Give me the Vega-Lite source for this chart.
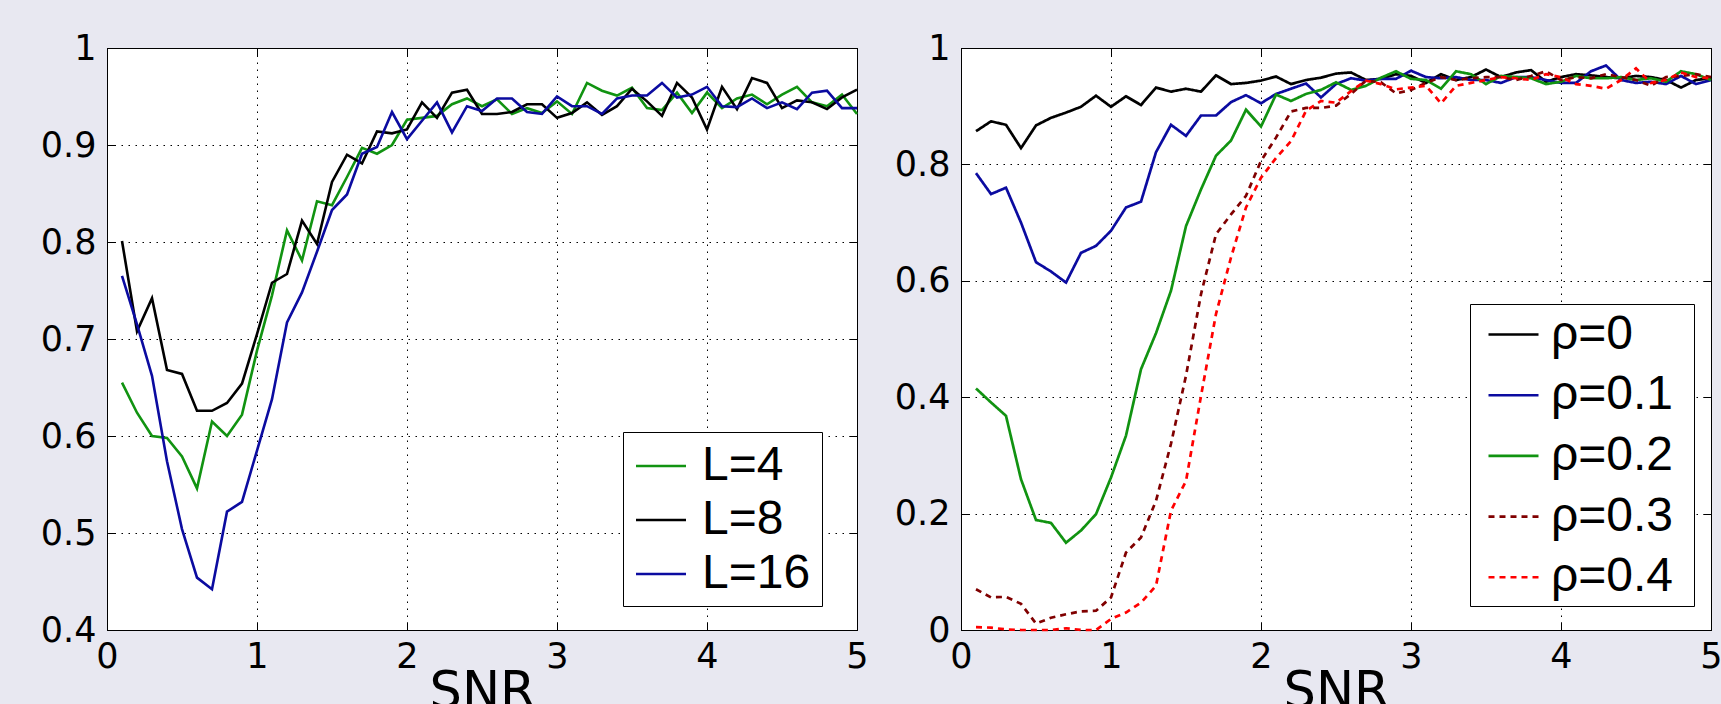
{
  "$schema": "https://vega.github.io/schema/vega-lite/v6.json",
  "background": "#e8e8f1",
  "padding": {"left": 0, "top": 30, "right": 0, "bottom": 0},
  "spacing": 104,
  "bounds": "flush",
  "resolve": {"scale": {"color": "independent", "strokeDash": "independent"}, "legend": {"color": "independent", "strokeDash": "independent"}},
  "config": {
    "view": {"stroke": "black", "strokeWidth": 1, "fill": "white"},
    "axis": {
      "labelFont": "DejaVu Sans", "labelFontSize": 35, "labelColor": "black",
      "titleFont": "DejaVu Sans", "titleFontSize": 51, "titleFontWeight": "normal", "titleColor": "black",
      "domain": false, "tickColor": "black", "tickSize": -8, "tickWidth": 1,
      "grid": true, "gridColor": "black", "gridDash": [1.5, 5.5], "gridOpacity": 1, "gridWidth": 1,
      "labelFlush": false
    },
    "legend": {
      "orient": "none", "symbolType": "stroke", "symbolSize": 2500, "symbolStrokeWidth": 2.6,
      "labelFont": "Liberation Sans", "labelFontSize": 48, "labelColor": "black",
      "titleOrient": "right", "titleFontSize": 10, "titleColor": "white",
      "strokeColor": "black", "fillColor": "white", "padding": 8, "cornerRadius": 0
    }
  },
  "datasets": {
    "left": [
      {"snr":0.1,"acc":0.655,"s":"L=4"},{"snr":0.2,"acc":0.624,"s":"L=4"},{"snr":0.3,"acc":0.600,"s":"L=4"},{"snr":0.4,"acc":0.598,"s":"L=4"},{"snr":0.5,"acc":0.579,"s":"L=4"},{"snr":0.6,"acc":0.546,"s":"L=4"},{"snr":0.7,"acc":0.615,"s":"L=4"},{"snr":0.8,"acc":0.600,"s":"L=4"},{"snr":0.9,"acc":0.622,"s":"L=4"},{"snr":1.0,"acc":0.688,"s":"L=4"},
      {"snr":1.1,"acc":0.745,"s":"L=4"},{"snr":1.2,"acc":0.812,"s":"L=4"},{"snr":1.3,"acc":0.781,"s":"L=4"},{"snr":1.4,"acc":0.842,"s":"L=4"},{"snr":1.5,"acc":0.838,"s":"L=4"},{"snr":1.6,"acc":0.867,"s":"L=4"},{"snr":1.7,"acc":0.897,"s":"L=4"},{"snr":1.8,"acc":0.891,"s":"L=4"},{"snr":1.9,"acc":0.900,"s":"L=4"},{"snr":2.0,"acc":0.926,"s":"L=4"},
      {"snr":2.1,"acc":0.928,"s":"L=4"},{"snr":2.2,"acc":0.930,"s":"L=4"},{"snr":2.3,"acc":0.942,"s":"L=4"},{"snr":2.4,"acc":0.948,"s":"L=4"},{"snr":2.5,"acc":0.940,"s":"L=4"},{"snr":2.6,"acc":0.947,"s":"L=4"},{"snr":2.7,"acc":0.932,"s":"L=4"},{"snr":2.8,"acc":0.938,"s":"L=4"},{"snr":2.9,"acc":0.933,"s":"L=4"},{"snr":3.0,"acc":0.945,"s":"L=4"},
      {"snr":3.1,"acc":0.932,"s":"L=4"},{"snr":3.2,"acc":0.964,"s":"L=4"},{"snr":3.3,"acc":0.956,"s":"L=4"},{"snr":3.4,"acc":0.951,"s":"L=4"},{"snr":3.5,"acc":0.959,"s":"L=4"},{"snr":3.6,"acc":0.938,"s":"L=4"},{"snr":3.7,"acc":0.936,"s":"L=4"},{"snr":3.8,"acc":0.954,"s":"L=4"},{"snr":3.9,"acc":0.933,"s":"L=4"},{"snr":4.0,"acc":0.954,"s":"L=4"},
      {"snr":4.1,"acc":0.938,"s":"L=4"},{"snr":4.2,"acc":0.948,"s":"L=4"},{"snr":4.3,"acc":0.952,"s":"L=4"},{"snr":4.4,"acc":0.942,"s":"L=4"},{"snr":4.5,"acc":0.952,"s":"L=4"},{"snr":4.6,"acc":0.960,"s":"L=4"},{"snr":4.7,"acc":0.944,"s":"L=4"},{"snr":4.8,"acc":0.940,"s":"L=4"},{"snr":4.9,"acc":0.952,"s":"L=4"},{"snr":5.0,"acc":0.932,"s":"L=4"},
      {"snr":0.1,"acc":0.801,"s":"L=8"},{"snr":0.2,"acc":0.708,"s":"L=8"},{"snr":0.3,"acc":0.742,"s":"L=8"},{"snr":0.4,"acc":0.668,"s":"L=8"},{"snr":0.5,"acc":0.664,"s":"L=8"},{"snr":0.6,"acc":0.626,"s":"L=8"},{"snr":0.7,"acc":0.626,"s":"L=8"},{"snr":0.8,"acc":0.634,"s":"L=8"},{"snr":0.9,"acc":0.654,"s":"L=8"},{"snr":1.0,"acc":0.705,"s":"L=8"},
      {"snr":1.1,"acc":0.758,"s":"L=8"},{"snr":1.2,"acc":0.767,"s":"L=8"},{"snr":1.3,"acc":0.822,"s":"L=8"},{"snr":1.4,"acc":0.798,"s":"L=8"},{"snr":1.5,"acc":0.862,"s":"L=8"},{"snr":1.6,"acc":0.890,"s":"L=8"},{"snr":1.7,"acc":0.881,"s":"L=8"},{"snr":1.8,"acc":0.914,"s":"L=8"},{"snr":1.9,"acc":0.912,"s":"L=8"},{"snr":2.0,"acc":0.916,"s":"L=8"},
      {"snr":2.1,"acc":0.944,"s":"L=8"},{"snr":2.2,"acc":0.928,"s":"L=8"},{"snr":2.3,"acc":0.954,"s":"L=8"},{"snr":2.4,"acc":0.957,"s":"L=8"},{"snr":2.5,"acc":0.932,"s":"L=8"},{"snr":2.6,"acc":0.932,"s":"L=8"},{"snr":2.7,"acc":0.934,"s":"L=8"},{"snr":2.8,"acc":0.942,"s":"L=8"},{"snr":2.9,"acc":0.942,"s":"L=8"},{"snr":3.0,"acc":0.928,"s":"L=8"},
      {"snr":3.1,"acc":0.933,"s":"L=8"},{"snr":3.2,"acc":0.944,"s":"L=8"},{"snr":3.3,"acc":0.931,"s":"L=8"},{"snr":3.4,"acc":0.940,"s":"L=8"},{"snr":3.5,"acc":0.958,"s":"L=8"},{"snr":3.6,"acc":0.945,"s":"L=8"},{"snr":3.7,"acc":0.930,"s":"L=8"},{"snr":3.8,"acc":0.964,"s":"L=8"},{"snr":3.9,"acc":0.949,"s":"L=8"},{"snr":4.0,"acc":0.916,"s":"L=8"},
      {"snr":4.1,"acc":0.960,"s":"L=8"},{"snr":4.2,"acc":0.937,"s":"L=8"},{"snr":4.3,"acc":0.969,"s":"L=8"},{"snr":4.4,"acc":0.964,"s":"L=8"},{"snr":4.5,"acc":0.938,"s":"L=8"},{"snr":4.6,"acc":0.946,"s":"L=8"},{"snr":4.7,"acc":0.944,"s":"L=8"},{"snr":4.8,"acc":0.937,"s":"L=8"},{"snr":4.9,"acc":0.949,"s":"L=8"},{"snr":5.0,"acc":0.957,"s":"L=8"},
      {"snr":0.1,"acc":0.765,"s":"L=16"},{"snr":0.2,"acc":0.715,"s":"L=16"},{"snr":0.3,"acc":0.662,"s":"L=16"},{"snr":0.4,"acc":0.574,"s":"L=16"},{"snr":0.5,"acc":0.504,"s":"L=16"},{"snr":0.6,"acc":0.454,"s":"L=16"},{"snr":0.7,"acc":0.442,"s":"L=16"},{"snr":0.8,"acc":0.522,"s":"L=16"},{"snr":0.9,"acc":0.532,"s":"L=16"},{"snr":1.0,"acc":0.585,"s":"L=16"},
      {"snr":1.1,"acc":0.638,"s":"L=16"},{"snr":1.2,"acc":0.717,"s":"L=16"},{"snr":1.3,"acc":0.748,"s":"L=16"},{"snr":1.4,"acc":0.790,"s":"L=16"},{"snr":1.5,"acc":0.833,"s":"L=16"},{"snr":1.6,"acc":0.849,"s":"L=16"},{"snr":1.7,"acc":0.891,"s":"L=16"},{"snr":1.8,"acc":0.898,"s":"L=16"},{"snr":1.9,"acc":0.934,"s":"L=16"},{"snr":2.0,"acc":0.906,"s":"L=16"},
      {"snr":2.1,"acc":0.925,"s":"L=16"},{"snr":2.2,"acc":0.944,"s":"L=16"},{"snr":2.3,"acc":0.913,"s":"L=16"},{"snr":2.4,"acc":0.940,"s":"L=16"},{"snr":2.5,"acc":0.935,"s":"L=16"},{"snr":2.6,"acc":0.948,"s":"L=16"},{"snr":2.7,"acc":0.948,"s":"L=16"},{"snr":2.8,"acc":0.934,"s":"L=16"},{"snr":2.9,"acc":0.932,"s":"L=16"},{"snr":3.0,"acc":0.950,"s":"L=16"},
      {"snr":3.1,"acc":0.940,"s":"L=16"},{"snr":3.2,"acc":0.940,"s":"L=16"},{"snr":3.3,"acc":0.932,"s":"L=16"},{"snr":3.4,"acc":0.948,"s":"L=16"},{"snr":3.5,"acc":0.951,"s":"L=16"},{"snr":3.6,"acc":0.951,"s":"L=16"},{"snr":3.7,"acc":0.964,"s":"L=16"},{"snr":3.8,"acc":0.949,"s":"L=16"},{"snr":3.9,"acc":0.952,"s":"L=16"},{"snr":4.0,"acc":0.960,"s":"L=16"},
      {"snr":4.1,"acc":0.940,"s":"L=16"},{"snr":4.2,"acc":0.939,"s":"L=16"},{"snr":4.3,"acc":0.948,"s":"L=16"},{"snr":4.4,"acc":0.938,"s":"L=16"},{"snr":4.5,"acc":0.944,"s":"L=16"},{"snr":4.6,"acc":0.937,"s":"L=16"},{"snr":4.7,"acc":0.954,"s":"L=16"},{"snr":4.8,"acc":0.956,"s":"L=16"},{"snr":4.9,"acc":0.938,"s":"L=16"},{"snr":5.0,"acc":0.938,"s":"L=16"}
    ],
    "right": [
      {"snr":0.1,"acc":0.857,"s":"ρ=0"},{"snr":0.2,"acc":0.874,"s":"ρ=0"},{"snr":0.3,"acc":0.868,"s":"ρ=0"},{"snr":0.4,"acc":0.828,"s":"ρ=0"},{"snr":0.5,"acc":0.867,"s":"ρ=0"},{"snr":0.6,"acc":0.880,"s":"ρ=0"},{"snr":0.7,"acc":0.889,"s":"ρ=0"},{"snr":0.8,"acc":0.899,"s":"ρ=0"},{"snr":0.9,"acc":0.918,"s":"ρ=0"},{"snr":1.0,"acc":0.899,"s":"ρ=0"},
      {"snr":1.1,"acc":0.917,"s":"ρ=0"},{"snr":1.2,"acc":0.902,"s":"ρ=0"},{"snr":1.3,"acc":0.932,"s":"ρ=0"},{"snr":1.4,"acc":0.925,"s":"ρ=0"},{"snr":1.5,"acc":0.930,"s":"ρ=0"},{"snr":1.6,"acc":0.925,"s":"ρ=0"},{"snr":1.7,"acc":0.953,"s":"ρ=0"},{"snr":1.8,"acc":0.938,"s":"ρ=0"},{"snr":1.9,"acc":0.940,"s":"ρ=0"},{"snr":2.0,"acc":0.944,"s":"ρ=0"},
      {"snr":2.1,"acc":0.951,"s":"ρ=0"},{"snr":2.2,"acc":0.938,"s":"ρ=0"},{"snr":2.3,"acc":0.945,"s":"ρ=0"},{"snr":2.4,"acc":0.949,"s":"ρ=0"},{"snr":2.5,"acc":0.956,"s":"ρ=0"},{"snr":2.6,"acc":0.958,"s":"ρ=0"},{"snr":2.7,"acc":0.945,"s":"ρ=0"},{"snr":2.8,"acc":0.947,"s":"ρ=0"},{"snr":2.9,"acc":0.955,"s":"ρ=0"},{"snr":3.0,"acc":0.952,"s":"ρ=0"},
      {"snr":3.1,"acc":0.940,"s":"ρ=0"},{"snr":3.2,"acc":0.955,"s":"ρ=0"},{"snr":3.3,"acc":0.945,"s":"ρ=0"},{"snr":3.4,"acc":0.950,"s":"ρ=0"},{"snr":3.5,"acc":0.963,"s":"ρ=0"},{"snr":3.6,"acc":0.950,"s":"ρ=0"},{"snr":3.7,"acc":0.958,"s":"ρ=0"},{"snr":3.8,"acc":0.962,"s":"ρ=0"},{"snr":3.9,"acc":0.942,"s":"ρ=0"},{"snr":4.0,"acc":0.950,"s":"ρ=0"},
      {"snr":4.1,"acc":0.955,"s":"ρ=0"},{"snr":4.2,"acc":0.953,"s":"ρ=0"},{"snr":4.3,"acc":0.950,"s":"ρ=0"},{"snr":4.4,"acc":0.948,"s":"ρ=0"},{"snr":4.5,"acc":0.952,"s":"ρ=0"},{"snr":4.6,"acc":0.950,"s":"ρ=0"},{"snr":4.7,"acc":0.945,"s":"ρ=0"},{"snr":4.8,"acc":0.932,"s":"ρ=0"},{"snr":4.9,"acc":0.945,"s":"ρ=0"},{"snr":5.0,"acc":0.948,"s":"ρ=0"},
      {"snr":0.1,"acc":0.785,"s":"ρ=0.1"},{"snr":0.2,"acc":0.749,"s":"ρ=0.1"},{"snr":0.3,"acc":0.760,"s":"ρ=0.1"},{"snr":0.4,"acc":0.700,"s":"ρ=0.1"},{"snr":0.5,"acc":0.632,"s":"ρ=0.1"},{"snr":0.6,"acc":0.616,"s":"ρ=0.1"},{"snr":0.7,"acc":0.597,"s":"ρ=0.1"},{"snr":0.8,"acc":0.648,"s":"ρ=0.1"},{"snr":0.9,"acc":0.660,"s":"ρ=0.1"},{"snr":1.0,"acc":0.686,"s":"ρ=0.1"},
      {"snr":1.1,"acc":0.726,"s":"ρ=0.1"},{"snr":1.2,"acc":0.736,"s":"ρ=0.1"},{"snr":1.3,"acc":0.821,"s":"ρ=0.1"},{"snr":1.4,"acc":0.868,"s":"ρ=0.1"},{"snr":1.5,"acc":0.849,"s":"ρ=0.1"},{"snr":1.6,"acc":0.884,"s":"ρ=0.1"},{"snr":1.7,"acc":0.884,"s":"ρ=0.1"},{"snr":1.8,"acc":0.907,"s":"ρ=0.1"},{"snr":1.9,"acc":0.919,"s":"ρ=0.1"},{"snr":2.0,"acc":0.905,"s":"ρ=0.1"},
      {"snr":2.1,"acc":0.921,"s":"ρ=0.1"},{"snr":2.2,"acc":0.930,"s":"ρ=0.1"},{"snr":2.3,"acc":0.939,"s":"ρ=0.1"},{"snr":2.4,"acc":0.915,"s":"ρ=0.1"},{"snr":2.5,"acc":0.938,"s":"ρ=0.1"},{"snr":2.6,"acc":0.948,"s":"ρ=0.1"},{"snr":2.7,"acc":0.944,"s":"ρ=0.1"},{"snr":2.8,"acc":0.947,"s":"ρ=0.1"},{"snr":2.9,"acc":0.947,"s":"ρ=0.1"},{"snr":3.0,"acc":0.961,"s":"ρ=0.1"},
      {"snr":3.1,"acc":0.950,"s":"ρ=0.1"},{"snr":3.2,"acc":0.948,"s":"ρ=0.1"},{"snr":3.3,"acc":0.950,"s":"ρ=0.1"},{"snr":3.4,"acc":0.945,"s":"ρ=0.1"},{"snr":3.5,"acc":0.945,"s":"ρ=0.1"},{"snr":3.6,"acc":0.940,"s":"ρ=0.1"},{"snr":3.7,"acc":0.950,"s":"ρ=0.1"},{"snr":3.8,"acc":0.950,"s":"ρ=0.1"},{"snr":3.9,"acc":0.945,"s":"ρ=0.1"},{"snr":4.0,"acc":0.940,"s":"ρ=0.1"},
      {"snr":4.1,"acc":0.940,"s":"ρ=0.1"},{"snr":4.2,"acc":0.960,"s":"ρ=0.1"},{"snr":4.3,"acc":0.970,"s":"ρ=0.1"},{"snr":4.4,"acc":0.945,"s":"ρ=0.1"},{"snr":4.5,"acc":0.940,"s":"ρ=0.1"},{"snr":4.6,"acc":0.942,"s":"ρ=0.1"},{"snr":4.7,"acc":0.938,"s":"ρ=0.1"},{"snr":4.8,"acc":0.952,"s":"ρ=0.1"},{"snr":4.9,"acc":0.938,"s":"ρ=0.1"},{"snr":5.0,"acc":0.945,"s":"ρ=0.1"},
      {"snr":0.1,"acc":0.415,"s":"ρ=0.2"},{"snr":0.2,"acc":0.391,"s":"ρ=0.2"},{"snr":0.3,"acc":0.368,"s":"ρ=0.2"},{"snr":0.4,"acc":0.259,"s":"ρ=0.2"},{"snr":0.5,"acc":0.189,"s":"ρ=0.2"},{"snr":0.6,"acc":0.184,"s":"ρ=0.2"},{"snr":0.7,"acc":0.150,"s":"ρ=0.2"},{"snr":0.8,"acc":0.171,"s":"ρ=0.2"},{"snr":0.9,"acc":0.199,"s":"ρ=0.2"},{"snr":1.0,"acc":0.262,"s":"ρ=0.2"},
      {"snr":1.1,"acc":0.334,"s":"ρ=0.2"},{"snr":1.2,"acc":0.448,"s":"ρ=0.2"},{"snr":1.3,"acc":0.510,"s":"ρ=0.2"},{"snr":1.4,"acc":0.583,"s":"ρ=0.2"},{"snr":1.5,"acc":0.694,"s":"ρ=0.2"},{"snr":1.6,"acc":0.757,"s":"ρ=0.2"},{"snr":1.7,"acc":0.815,"s":"ρ=0.2"},{"snr":1.8,"acc":0.841,"s":"ρ=0.2"},{"snr":1.9,"acc":0.894,"s":"ρ=0.2"},{"snr":2.0,"acc":0.865,"s":"ρ=0.2"},
      {"snr":2.1,"acc":0.920,"s":"ρ=0.2"},{"snr":2.2,"acc":0.909,"s":"ρ=0.2"},{"snr":2.3,"acc":0.921,"s":"ρ=0.2"},{"snr":2.4,"acc":0.928,"s":"ρ=0.2"},{"snr":2.5,"acc":0.941,"s":"ρ=0.2"},{"snr":2.6,"acc":0.928,"s":"ρ=0.2"},{"snr":2.7,"acc":0.935,"s":"ρ=0.2"},{"snr":2.8,"acc":0.949,"s":"ρ=0.2"},{"snr":2.9,"acc":0.960,"s":"ρ=0.2"},{"snr":3.0,"acc":0.947,"s":"ρ=0.2"},
      {"snr":3.1,"acc":0.945,"s":"ρ=0.2"},{"snr":3.2,"acc":0.930,"s":"ρ=0.2"},{"snr":3.3,"acc":0.960,"s":"ρ=0.2"},{"snr":3.4,"acc":0.955,"s":"ρ=0.2"},{"snr":3.5,"acc":0.938,"s":"ρ=0.2"},{"snr":3.6,"acc":0.952,"s":"ρ=0.2"},{"snr":3.7,"acc":0.950,"s":"ρ=0.2"},{"snr":3.8,"acc":0.948,"s":"ρ=0.2"},{"snr":3.9,"acc":0.938,"s":"ρ=0.2"},{"snr":4.0,"acc":0.942,"s":"ρ=0.2"},
      {"snr":4.1,"acc":0.952,"s":"ρ=0.2"},{"snr":4.2,"acc":0.948,"s":"ρ=0.2"},{"snr":4.3,"acc":0.948,"s":"ρ=0.2"},{"snr":4.4,"acc":0.950,"s":"ρ=0.2"},{"snr":4.5,"acc":0.945,"s":"ρ=0.2"},{"snr":4.6,"acc":0.948,"s":"ρ=0.2"},{"snr":4.7,"acc":0.942,"s":"ρ=0.2"},{"snr":4.8,"acc":0.960,"s":"ρ=0.2"},{"snr":4.9,"acc":0.955,"s":"ρ=0.2"},{"snr":5.0,"acc":0.945,"s":"ρ=0.2"},
      {"snr":0.1,"acc":0.070,"s":"ρ=0.3"},{"snr":0.2,"acc":0.056,"s":"ρ=0.3"},{"snr":0.3,"acc":0.057,"s":"ρ=0.3"},{"snr":0.4,"acc":0.045,"s":"ρ=0.3"},{"snr":0.5,"acc":0.011,"s":"ρ=0.3"},{"snr":0.6,"acc":0.021,"s":"ρ=0.3"},{"snr":0.7,"acc":0.027,"s":"ρ=0.3"},{"snr":0.8,"acc":0.032,"s":"ρ=0.3"},{"snr":0.9,"acc":0.033,"s":"ρ=0.3"},{"snr":1.0,"acc":0.056,"s":"ρ=0.3"},
      {"snr":1.1,"acc":0.133,"s":"ρ=0.3"},{"snr":1.2,"acc":0.159,"s":"ρ=0.3"},{"snr":1.3,"acc":0.222,"s":"ρ=0.3"},{"snr":1.4,"acc":0.320,"s":"ρ=0.3"},{"snr":1.5,"acc":0.437,"s":"ρ=0.3"},{"snr":1.6,"acc":0.577,"s":"ρ=0.3"},{"snr":1.7,"acc":0.680,"s":"ρ=0.3"},{"snr":1.8,"acc":0.714,"s":"ρ=0.3"},{"snr":1.9,"acc":0.746,"s":"ρ=0.3"},{"snr":2.0,"acc":0.806,"s":"ρ=0.3"},
      {"snr":2.1,"acc":0.846,"s":"ρ=0.3"},{"snr":2.2,"acc":0.891,"s":"ρ=0.3"},{"snr":2.3,"acc":0.897,"s":"ρ=0.3"},{"snr":2.4,"acc":0.897,"s":"ρ=0.3"},{"snr":2.5,"acc":0.901,"s":"ρ=0.3"},{"snr":2.6,"acc":0.921,"s":"ρ=0.3"},{"snr":2.7,"acc":0.944,"s":"ρ=0.3"},{"snr":2.8,"acc":0.941,"s":"ρ=0.3"},{"snr":2.9,"acc":0.922,"s":"ρ=0.3"},{"snr":3.0,"acc":0.928,"s":"ρ=0.3"},
      {"snr":3.1,"acc":0.940,"s":"ρ=0.3"},{"snr":3.2,"acc":0.950,"s":"ρ=0.3"},{"snr":3.3,"acc":0.945,"s":"ρ=0.3"},{"snr":3.4,"acc":0.948,"s":"ρ=0.3"},{"snr":3.5,"acc":0.950,"s":"ρ=0.3"},{"snr":3.6,"acc":0.950,"s":"ρ=0.3"},{"snr":3.7,"acc":0.945,"s":"ρ=0.3"},{"snr":3.8,"acc":0.952,"s":"ρ=0.3"},{"snr":3.9,"acc":0.960,"s":"ρ=0.3"},{"snr":4.0,"acc":0.945,"s":"ρ=0.3"},
      {"snr":4.1,"acc":0.950,"s":"ρ=0.3"},{"snr":4.2,"acc":0.948,"s":"ρ=0.3"},{"snr":4.3,"acc":0.955,"s":"ρ=0.3"},{"snr":4.4,"acc":0.950,"s":"ρ=0.3"},{"snr":4.5,"acc":0.945,"s":"ρ=0.3"},{"snr":4.6,"acc":0.935,"s":"ρ=0.3"},{"snr":4.7,"acc":0.950,"s":"ρ=0.3"},{"snr":4.8,"acc":0.952,"s":"ρ=0.3"},{"snr":4.9,"acc":0.955,"s":"ρ=0.3"},{"snr":5.0,"acc":0.950,"s":"ρ=0.3"},
      {"snr":0.1,"acc":0.005,"s":"ρ=0.4"},{"snr":0.2,"acc":0.004,"s":"ρ=0.4"},{"snr":0.3,"acc":0.001,"s":"ρ=0.4"},{"snr":0.4,"acc":0.000,"s":"ρ=0.4"},{"snr":0.5,"acc":0.000,"s":"ρ=0.4"},{"snr":0.6,"acc":0.000,"s":"ρ=0.4"},{"snr":0.7,"acc":0.003,"s":"ρ=0.4"},{"snr":0.8,"acc":0.000,"s":"ρ=0.4"},{"snr":0.9,"acc":0.000,"s":"ρ=0.4"},{"snr":1.0,"acc":0.019,"s":"ρ=0.4"},
      {"snr":1.1,"acc":0.030,"s":"ρ=0.4"},{"snr":1.2,"acc":0.047,"s":"ρ=0.4"},{"snr":1.3,"acc":0.076,"s":"ρ=0.4"},{"snr":1.4,"acc":0.205,"s":"ρ=0.4"},{"snr":1.5,"acc":0.256,"s":"ρ=0.4"},{"snr":1.6,"acc":0.402,"s":"ρ=0.4"},{"snr":1.7,"acc":0.543,"s":"ρ=0.4"},{"snr":1.8,"acc":0.640,"s":"ρ=0.4"},{"snr":1.9,"acc":0.726,"s":"ρ=0.4"},{"snr":2.0,"acc":0.777,"s":"ρ=0.4"},
      {"snr":2.1,"acc":0.811,"s":"ρ=0.4"},{"snr":2.2,"acc":0.840,"s":"ρ=0.4"},{"snr":2.3,"acc":0.892,"s":"ρ=0.4"},{"snr":2.4,"acc":0.909,"s":"ρ=0.4"},{"snr":2.5,"acc":0.906,"s":"ρ=0.4"},{"snr":2.6,"acc":0.926,"s":"ρ=0.4"},{"snr":2.7,"acc":0.944,"s":"ρ=0.4"},{"snr":2.8,"acc":0.938,"s":"ρ=0.4"},{"snr":2.9,"acc":0.929,"s":"ρ=0.4"},{"snr":3.0,"acc":0.932,"s":"ρ=0.4"},
      {"snr":3.1,"acc":0.935,"s":"ρ=0.4"},{"snr":3.2,"acc":0.905,"s":"ρ=0.4"},{"snr":3.3,"acc":0.935,"s":"ρ=0.4"},{"snr":3.4,"acc":0.940,"s":"ρ=0.4"},{"snr":3.5,"acc":0.945,"s":"ρ=0.4"},{"snr":3.6,"acc":0.950,"s":"ρ=0.4"},{"snr":3.7,"acc":0.948,"s":"ρ=0.4"},{"snr":3.8,"acc":0.945,"s":"ρ=0.4"},{"snr":3.9,"acc":0.955,"s":"ρ=0.4"},{"snr":4.0,"acc":0.950,"s":"ρ=0.4"},
      {"snr":4.1,"acc":0.938,"s":"ρ=0.4"},{"snr":4.2,"acc":0.935,"s":"ρ=0.4"},{"snr":4.3,"acc":0.930,"s":"ρ=0.4"},{"snr":4.4,"acc":0.945,"s":"ρ=0.4"},{"snr":4.5,"acc":0.965,"s":"ρ=0.4"},{"snr":4.6,"acc":0.940,"s":"ρ=0.4"},{"snr":4.7,"acc":0.945,"s":"ρ=0.4"},{"snr":4.8,"acc":0.958,"s":"ρ=0.4"},{"snr":4.9,"acc":0.950,"s":"ρ=0.4"},{"snr":5.0,"acc":0.948,"s":"ρ=0.4"}
    ]
  },
  "hconcat": [
    {
      "width": 750, "height": 582,
      "data": {"name": "left"},
      "layer": [
        {
          "mark": {"type": "line", "strokeWidth": 2.6},
          "encoding": {
            "x": {"field": "snr", "type": "quantitative", "scale": {"domain": [0, 5], "nice": false},
                  "axis": {"orient": "bottom", "values": [0,1,2,3,4,5], "title": "SNR", "labelPadding": 17, "titlePadding": -7}},
            "y": {"field": "acc", "type": "quantitative", "scale": {"domain": [0.4, 1], "nice": false, "zero": false},
                  "axis": {"orient": "left", "values": [0.4,0.5,0.6,0.7,0.8,0.9,1], "format": "~g", "title": null, "labelPadding": 19, "minExtent": 106, "maxExtent": 106}},
            "color": {"field": "s", "type": "nominal",
                      "scale": {"domain": ["L=4", "L=8", "L=16"], "range": ["#119311", "#000000", "#0b0ba0"]},
                      "legend": {"title": " ", "titlePadding": 4, "legendX": 516, "legendY": 384, "rowPadding": 3, "padding": 7.5, "symbolOffset": 4, "labelOffset": 14.5}}
          }
        },
        {
          "mark": {"type": "line", "opacity": 0},
          "encoding": {
            "x": {"field": "snr", "type": "quantitative",
                  "axis": {"orient": "top", "values": [0,1,2,3,4,5], "labels": false, "grid": false, "title": null}},
            "y": {"field": "acc", "type": "quantitative",
                  "axis": {"orient": "right", "values": [0.4,0.5,0.6,0.7,0.8,0.9,1], "labels": false, "grid": false, "title": null}}
          }
        }
      ],
      "resolve": {"axis": {"x": "independent", "y": "independent"}}
    },
    {
      "width": 750, "height": 582,
      "data": {"name": "right"},
      "layer": [
        {
          "mark": {"type": "line", "strokeWidth": 2.7},
          "encoding": {
            "x": {"field": "snr", "type": "quantitative", "scale": {"domain": [0, 5], "nice": false},
                  "axis": {"orient": "bottom", "values": [0,1,2,3,4,5], "title": "SNR", "labelPadding": 17, "titlePadding": -7}},
            "y": {"field": "acc", "type": "quantitative", "scale": {"domain": [0, 1], "nice": false},
                  "axis": {"orient": "left", "values": [0,0.2,0.4,0.6,0.8,1], "format": "~g", "title": null, "labelPadding": 19, "minExtent": 104, "maxExtent": 104}},
            "color": {"field": "s", "type": "nominal",
                      "scale": {"domain": ["ρ=0", "ρ=0.1", "ρ=0.2", "ρ=0.3", "ρ=0.4"], "range": ["#000000", "#0b0ba0", "#119311", "#800000", "#ff0000"]},
                      "legend": {"title": " ", "titlePadding": 17, "legendX": 509, "legendY": 256, "rowPadding": 9.7, "padding": 4, "symbolOffset": 13, "labelOffset": 11}},
            "strokeDash": {"field": "s", "type": "nominal",
                      "scale": {"domain": ["ρ=0", "ρ=0.1", "ρ=0.2", "ρ=0.3", "ρ=0.4"], "range": [[1,0],[1,0],[1,0],[6,5],[6,5]]},
                      "legend": {"title": " ", "titlePadding": 17, "legendX": 509, "legendY": 256, "rowPadding": 9.7, "padding": 4, "symbolOffset": 13, "labelOffset": 11}}
          }
        },
        {
          "mark": {"type": "line", "opacity": 0},
          "encoding": {
            "x": {"field": "snr", "type": "quantitative",
                  "axis": {"orient": "top", "values": [0,1,2,3,4,5], "labels": false, "grid": false, "title": null}},
            "y": {"field": "acc", "type": "quantitative",
                  "axis": {"orient": "right", "values": [0,0.2,0.4,0.6,0.8,1], "labels": false, "grid": false, "title": null}}
          }
        }
      ],
      "resolve": {"axis": {"x": "independent", "y": "independent"}}
    }
  ]
}
